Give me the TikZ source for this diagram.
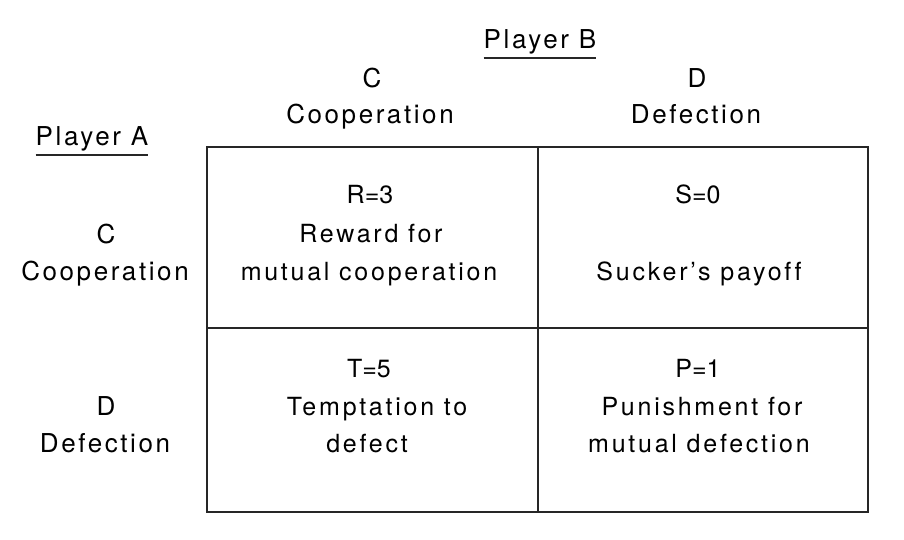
\documentclass[tikz,border=0pt]{standalone}
\usepackage{fontspec}
\setmainfont{TeX Gyre Heros}
\newfontfamily\hdrfont[LetterSpace=10,Ligatures=CommonOff]{TeX Gyre Heros}
\newfontfamily\cellfont[LetterSpace=11,Ligatures=CommonOff]{TeX Gyre Heros}
\newfontfamily\valfont{TeX Gyre Heros}
\begin{document}
\begin{tikzpicture}[x=1pt,y=-1pt,
  hdr/.style={font=\hdrfont\fontsize{26}{34}\selectfont, anchor=base, inner sep=0pt},
  cell/.style={font=\cellfont\fontsize{25}{34}\selectfont, anchor=base, inner sep=0pt},
  val/.style={font=\valfont\fontsize{25}{34}\selectfont, anchor=base, inner sep=0pt},
  gridline/.style={line width=1.8pt, black!85},
  uline/.style={line width=1.6pt, black!85}]
\useasboundingbox (0,0) rectangle (904,540);
\fill[white] (0,0) rectangle (904,540);
% grid
\coordinate (tl) at (207,147);
\coordinate (br) at (868,512);
\coordinate (tm) at (538,147);
\coordinate (bm) at (538,512);
\coordinate (ml) at (207,328);
\coordinate (mr) at (868,328);
\draw[gridline] (tl) rectangle (br);
\draw[gridline] (tm) -- (bm);
\draw[gridline] (ml) -- (mr);
% headers
\node[hdr] (pb) at (540,49) {Player B};
\draw[uline] ([yshift=-9pt]pb.base west) -- ([yshift=-9pt]pb.base east);
\node[hdr] (pa) at (92,146) {Player A};
\draw[uline] ([yshift=-9pt]pa.base west) -- ([yshift=-9pt]pa.base east);
\node[hdr] (hc) at (372,88) {C};
\node[hdr] (hcoop) at (370,124) {Cooperation};
\node[hdr] (hd) at (697,88) {D};
\node[hdr] (hdef) at (696,124) {Defection};
\node[hdr] (lc) at (106,243) {C};
\node[hdr] (lcoop) at (105,280) {Cooperation};
\node[hdr] (ld) at (106,415) {D};
\node[hdr] (ldef) at (105,452) {Defection};
% cells
\node[val] (r1) at (370,204) {R=3};
\node[cell] (r2) at (371,242) {Reward for};
\node[cell] (r3) at (369,280) {mutual cooperation};
\node[val] (s1) at (698,204) {S=0};
\node[cell] (s2) at (699,280) {Sucker’s payoff};
\node[val] (t1) at (369,377) {T=5};
\node[cell] (t2) at (377,415) {Temptation to};
\node[cell] (t3) at (367,452) {defect};
\node[val] (p1) at (698,377) {P=1};
\node[cell] (p2) at (702,415) {Punishment for};
\node[cell] (p3) at (699,452) {mutual defection};
\end{tikzpicture}
\end{document}
